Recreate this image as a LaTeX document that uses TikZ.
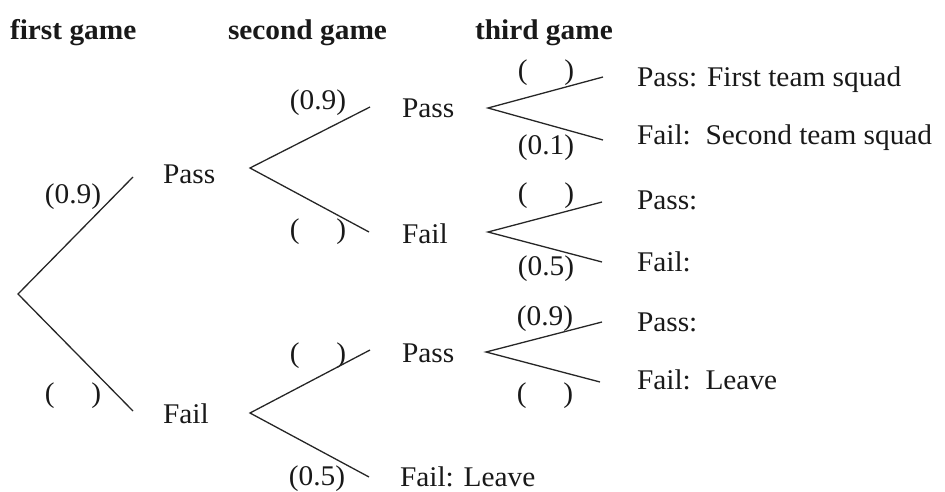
\documentclass[tikz,border=0pt]{standalone}
\usepackage{fontspec}
\setmainfont{Liberation Serif}[FakeStretch=1.03]
\begin{document}
\begin{tikzpicture}[x=1pt,y=-1pt,
  every node/.style={inner sep=0pt,outer sep=0pt,font=\fontsize{28.5}{30}\selectfont,text=black!90},
  lab/.style={anchor=base west},
  prob/.style={anchor=base},
  hdr/.style={anchor=base west,font=\fontsize{28.5}{30}\selectfont\bfseries},
  branch/.style={line width=1.3pt,draw=black!85}]
\useasboundingbox (0,0) rectangle (945,492);
% headers
\node[hdr] (h1) at (10,40) {first game};
\node[hdr] (h2) at (228,40) {second game};
\node[hdr] (h3) at (475,40) {third game};
% fork points and branch ends
\coordinate (r0) at (18,294);
\coordinate (e1u) at (133,177);
\coordinate (e1d) at (133,411);
\coordinate (r2u) at (250,168);
\coordinate (e2uu) at (370,107);
\coordinate (e2ud) at (369,232);
\coordinate (r2d) at (250,413);
\coordinate (e2du) at (370,350);
\coordinate (e2dd) at (369,477);
\coordinate (r3a) at (488,108);
\coordinate (e3a1) at (603,77);
\coordinate (e3a2) at (603,140);
\coordinate (r3b) at (488,232);
\coordinate (e3b1) at (602,202);
\coordinate (e3b2) at (602,262);
\coordinate (r3c) at (486,352);
\coordinate (e3c1) at (602,322);
\coordinate (e3c2) at (600,382);
% first level
\node[lab] (p1) at (163,183) {Pass};
\node[lab] (f1) at (163,423) {Fail};
\node[prob] (q1) at (73,203) {(0.9)};
\node[prob] (q2) at (73,402) {(\hphantom{0.9})};
% second level
\node[lab] (p2) at (402,118) {Pass};
\node[lab] (f2) at (402,243) {Fail};
\node[lab] (p3) at (402,362) {Pass};
\node[lab] (f3) at (400,486) {Fail: Leave};
\node[prob] (q3) at (318,110) {(0.9)};
\node[prob] (q4) at (318,238) {(\hphantom{0.9})};
\node[prob] (q5) at (318,362) {(\hphantom{0.9})};
\node[prob] (q6) at (317,485) {(0.5)};
% third level
\node[lab] (t1) at (637,87) {Pass: First team squad};
\node[lab] (t2) at (637,145) {Fail:\ \ Second team squad};
\node[lab] (t3) at (637,209) {Pass:};
\node[lab] (t4) at (637,271) {Fail:};
\node[lab] (t5) at (637,331) {Pass:};
\node[lab] (t6) at (637,389) {Fail:\ \ Leave};
\node[prob] (q7) at (546,80) {(\hphantom{0.9})};
\node[prob] (q8) at (546,155) {(0.1)};
\node[prob] (q9) at (546,202) {(\hphantom{0.9})};
\node[prob] (q10) at (546,275) {(0.5)};
\node[prob] (q11) at (545,325) {(0.9)};
\node[prob] (q12) at (545,402) {(\hphantom{0.9})};
% branches
\draw[branch] (e1u) -- (r0) -- (e1d);
\draw[branch] (e2uu) -- (r2u) -- (e2ud);
\draw[branch] (e2du) -- (r2d) -- (e2dd);
\draw[branch] (e3a1) -- (r3a) -- (e3a2);
\draw[branch] (e3b1) -- (r3b) -- (e3b2);
\draw[branch] (e3c1) -- (r3c) -- (e3c2);
\end{tikzpicture}
\end{document}
